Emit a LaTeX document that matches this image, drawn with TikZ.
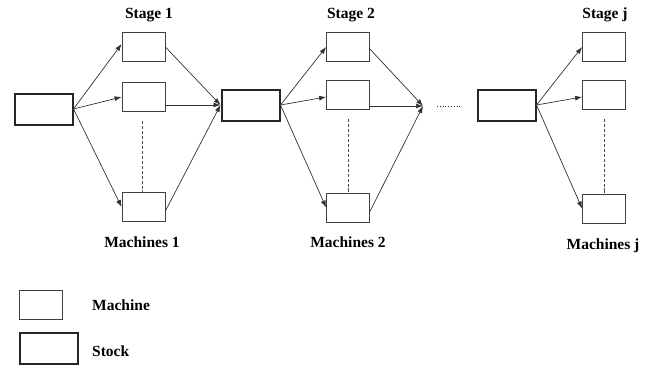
\documentclass[tikz,border=0pt]{standalone}
\usepackage{fontspec}
\setmainfont{Liberation Serif}
\usetikzlibrary{arrows.meta}
\begin{document}
\begin{tikzpicture}[x=1pt,y=-1pt,
  machine/.style={draw=black!75,line width=0.8pt,minimum width=43pt,minimum height=29pt,inner sep=0pt},
  stock/.style={draw=black!85,line width=2pt,minimum width=58pt,minimum height=31pt,inner sep=0pt},
  lbl/.style={font=\fontsize{15.5}{17}\selectfont\bfseries,inner sep=0pt},
  conn/.style={draw=black!80,line width=0.7pt,-{Latex[length=7pt,width=5pt]}},
  vdash/.style={draw=black!70,line width=0.7pt,dash pattern=on 3pt off 2pt}]
\useasboundingbox (0,0) rectangle (652,367);
% stocks
\node[stock] (s0) at (43.5,109) {};
\node[stock] (s1) at (250.5,105) {};
\node[stock] (sj) at (506.5,105) {};
% stage 1
\node[machine] (a1) at (143.5,47) {};
\node[machine] (a2) at (143.5,97) {};
\node[machine] (a3) at (143.5,207) {};
% stage 2
\node[machine] (b1) at (348,47) {};
\node[machine] (b2) at (348,95) {};
\node[machine] (b3) at (348,207.5) {};
% stage j
\node[machine] (c1) at (604,47) {};
\node[machine] (c2) at (604,95) {};
\node[machine] (c3) at (604,208.5) {};
\coordinate (conv) at (423,106);
\coordinate (dl) at (437,106);
\coordinate (dr) at (462,106);
% labels
\node[lbl] (t1) at (149,15) {Stage 1};
\node[lbl] (t2) at (351,15) {Stage 2};
\node[lbl] (tj) at (605,15) {Stage j};
\node[lbl] (m1) at (142,242) {Machines 1};
\node[lbl] (m2) at (348,242) {Machines 2};
\node[lbl] (mj) at (603,246) {Machines j};
% dashed verticals
\draw[vdash] (a2.south) ++(-1.5,9) coordinate (a2d) -- (a2d |- a3.north) -- ++(0,-6);
\draw[vdash] (b2.south) ++(0,9) coordinate (b2d) -- (b2d |- b3.north) -- ++(0,-6);
\draw[vdash] (c2.south) ++(0,9) coordinate (c2d) -- (c2d |- c3.north) -- ++(0,-6);
% stage 1 arrows
\draw[conn] (s0.east) -- ([yshift=3pt]a1.west);
\draw[conn] (s0.east) -- (a2.west);
\draw[conn] (s0.east) -- (a3.west);
\draw[conn] (a1.east) -- (s1.west);
\draw[conn] (a2.east |- s1.west) -- (s1.west);
\draw[conn] ([yshift=-4pt]a3.east) -- (s1.west);
% stage 2 arrows
\draw[conn] (s1.east) -- (b1.west);
\draw[conn] (s1.east) -- ([yshift=-2pt]b2.west);
\draw[conn] (s1.east) -- (b3.west);
\draw[conn] ([yshift=-2pt]b1.east) -- (conv);
\draw[conn] (b2.east |- conv) -- (conv);
\draw[conn] ([yshift=-4pt]b3.east) -- (conv);
\draw[draw=black!80,line width=0.8pt,dotted] (dl) -- (dr);
% stage j arrows
\draw[conn] (sj.east) -- (c1.west);
\draw[conn] (sj.east) -- ([yshift=-2pt]c2.west);
\draw[conn] (sj.east) -- (c3.west);
% legend
\node[machine] (lm) at (40.5,304.5) {};
\node[stock] (ls) at (48.5,348.5) {};
\node[lbl,anchor=west] (lmt) at (92,305) {Machine};
\node[lbl,anchor=west] (lst) at (92,351) {Stock};
\end{tikzpicture}
\end{document}
